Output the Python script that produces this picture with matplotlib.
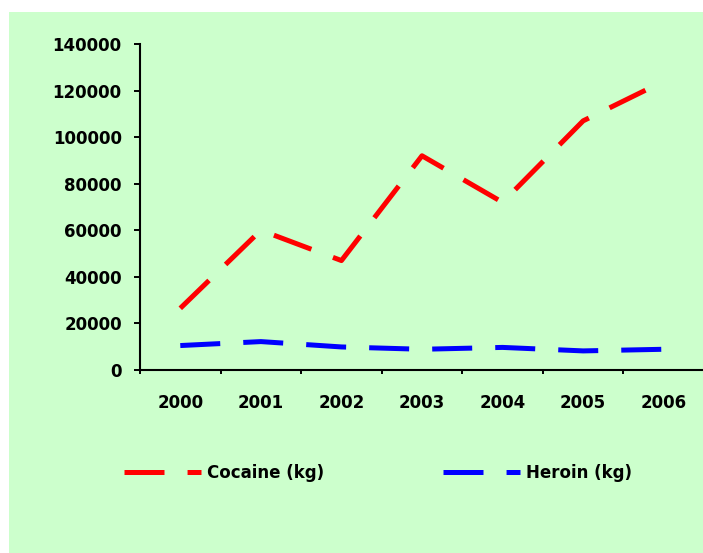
import matplotlib
matplotlib.use("Agg")
import matplotlib.pyplot as plt
from matplotlib.patches import Rectangle

# -----------------------------
# Data
# -----------------------------
years = ['2000', '2001', '2002', '2003', '2004', '2005', '2006']
cocaine_kg = [26500, 60000, 47000, 92000, 72000, 107000, 124000]
heroin_kg = [10500, 12200, 9900, 8900, 9700, 8200, 8900]
y_ticks = [0, 20000, 40000, 60000, 80000, 100000, 120000, 140000]

W, H = 703, 553

plt.rcParams['font.family'] = 'DejaVu Sans'
plt.rcParams['font.weight'] = 'bold'
plt.rcParams['lines.scale_dashes'] = False

fig = plt.figure(figsize=(W / 100, H / 100), dpi=100)
fig.patch.set_facecolor('white')
# light green chart area (white strip on top and left)
fig.patches.append(Rectangle((9 / W, 0), 1, 1 - 12 / H, transform=fig.transFigure,
                             facecolor='#ccffcc', edgecolor='none', zorder=-10))

ax = fig.add_axes([140 / W, 1 - 370 / H, 564 / W, 326 / H])
ax.set_facecolor('none')

x = list(range(len(years)))
dash = (28.8, 16.6)
ax.plot(x, cocaine_kg, color='#ff0000', lw=3.6, dashes=dash, dash_capstyle='butt',
        label='Cocaine (kg)')
ax.plot(x, heroin_kg, color='#0000ff', lw=3.6, dashes=dash, dash_capstyle='butt',
        label='Heroin (kg)')

ax.set_ylim(0, 140000)
ax.set_xlim(-0.5, 6.5)

for s in ['top', 'right']:
    ax.spines[s].set_visible(False)
for s in ['left', 'bottom']:
    ax.spines[s].set_linewidth(1.5)
    ax.spines[s].set_color('black')

ax.set_yticks(y_ticks)
ax.set_yticklabels([str(v) for v in y_ticks])
ax.tick_params(axis='y', direction='out', length=4.5, width=1.4, pad=8.6,
               labelsize=12, colors='black')

# ticks between categories, labels centred on categories
ax.set_xticks([i - 0.5 for i in range(len(years))])
ax.set_xticklabels([])
ax.tick_params(axis='x', which='major', direction='out', length=3, width=1.4)
ax.set_xticks(x, minor=True)
ax.set_xticklabels(years, minor=True)
ax.tick_params(axis='x', which='minor', length=0, pad=17, labelsize=12)

# -----------------------------
# Legend (two entries placed side by side)
# -----------------------------
lines = ax.get_lines()
legend_y = 1 - 473 / H
for line, x_left in zip(lines, [124, 443]):
    fig.legend([line], [line.get_label()], loc='center left',
               bbox_to_anchor=(x_left / W, legend_y), bbox_transform=fig.transFigure,
               frameon=False, borderpad=0, borderaxespad=0,
               handlelength=4.62, handletextpad=0.36,
               prop={'weight': 'bold', 'size': 12})

fig.savefig('out.png', dpi=100, facecolor=fig.get_facecolor())
